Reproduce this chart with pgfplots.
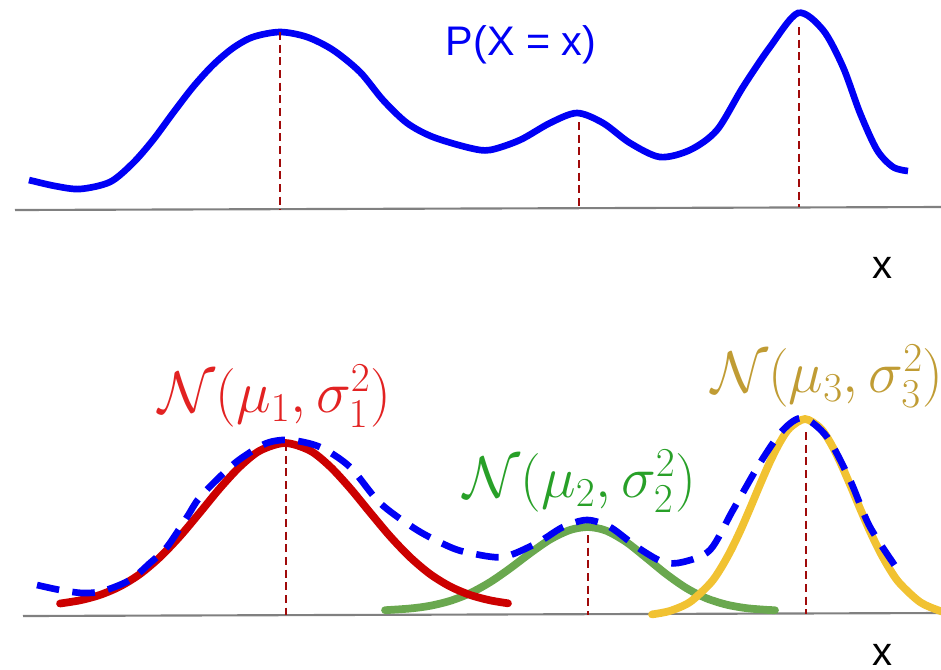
\RequirePackage{fix-cm}
\documentclass[border=0pt]{standalone}
\usepackage[no-math]{fontspec}
\usepackage{pgfplots}
\pgfplotsset{compat=1.18}
\newfontfamily\arial{Liberation Sans}
\definecolor{cblue}{RGB}{0,0,245}
\definecolor{cred}{RGB}{204,0,0}
\definecolor{tred}{RGB}{226,34,34}
\definecolor{cgreen}{RGB}{106,168,79}
\definecolor{tgreen}{RGB}{40,160,40}
\definecolor{cyellow}{RGB}{241,194,50}
\definecolor{tyellow}{RGB}{192,156,52}
\definecolor{vred}{RGB}{160,10,10}
\definecolor{cgray}{RGB}{128,128,128}
\begin{document}
\begin{tikzpicture}
\begin{axis}[width=705.75pt, height=501.75pt, scale only axis,
  xmin=0, xmax=941, ymin=0, ymax=669, y dir=reverse,
  hide axis, clip=false]
% axis lines
\addplot[cgray, line width=1.6pt] coordinates {(15,210) (941,207)};
\addplot[cgray, line width=1.6pt] coordinates {(23,616) (941,613)};
% top curve
\addplot[cblue, line width=5pt, smooth] coordinates {
(29,180) (55,186) (80,189) (110,182) (133,163) (153,140) (173,113) (193,87)
(213,65) (233,48) (253,37) (280,32) (307,37) (333,50) (360,72) (383,100)
(407,123) (433,137) (470,148) (490,150) (520,140) (550,123) (577,113)
(603,123) (630,143) (660,157) (690,150) (717,130) (743,87) (770,47)
(798,13) (823,30) (843,67) (860,113) (877,150) (893,167) (908,171)};
% top verticals
\addplot[vred, line width=1.8pt, dash pattern=on 6pt off 3.5pt] coordinates {(280,32) (280,210)};
\addplot[vred, line width=1.8pt, dash pattern=on 6pt off 3.5pt] coordinates {(579,122) (579,209)};
\addplot[vred, line width=1.8pt, dash pattern=on 6pt off 3.5pt] coordinates {(799,27) (799,207)};
% bottom verticals
\addplot[vred, line width=1.8pt, dash pattern=on 6pt off 3.5pt] coordinates {(286,443) (286,615)};
\addplot[vred, line width=1.8pt, dash pattern=on 6pt off 3.5pt] coordinates {(588,535) (588,615)};
\addplot[vred, line width=1.8pt, dash pattern=on 6pt off 3.5pt] coordinates {(806,432) (806,614)};
% green component
\addplot[cgreen, line width=5.8pt, smooth, line cap=round] coordinates {
(385,610.2) (410,608.5) (430,605.8) (450,600.9) (470,593.2) (490,582.2)
(510,568.4) (530,553.3) (550,539.5) (570,530) (588,527) (606,530.6)
(626,541.8) (646,557.6) (666,573.9) (686,587.9) (706,598.1) (726,604.5)
(746,608.1) (766,609.8) (775,610.2)};
% red component
\addplot[cred, line width=5.8pt, smooth, line cap=round] coordinates {
(60,603.5) (80,600.3) (100,594.9) (120,586.4) (140,574.0) (160,557.1)
(180,536.2) (200,512.4) (220,488.1) (240,466.5) (260,450.6) (285,443)
(310,450.6) (330,466.5) (350,488.1) (370,512.4) (390,536.2) (410,557.1)
(430,574.0) (450,586.4) (470,594.9) (490,600.3) (508,603.3)};
% yellow component
\addplot[cyellow, line width=5.8pt, smooth, line cap=round] coordinates {
(652,614.4) (670,610.9) (690,602) (710,583.6) (720,569.6) (730,552)
(740,531.4) (750,508.4) (760,484.6) (770,461.8) (780,442.1) (790,427.7)
(805,419) (820,427.7) (830,442.1) (840,461.8) (850,484.6) (860,508.4)
(870,531.4) (880,552) (890,569.6) (900,583.6) (920,602) (940,610.9) (950,612.5)};
% mixture, dashed
\addplot[cblue, line width=5pt, smooth, dash pattern=on 17pt off 10pt] coordinates {
(37,585) (60,590) (83,593) (103,591) (130,580) (150,563) (167,547) (187,517)
(200,497) (227,470) (243,457) (267,443) (290,440) (320,447) (350,467)
(380,503) (417,530) (450,547) (470,553) (503,557) (537,543) (563,527)
(587,520) (610,527) (637,547) (663,562) (683,562) (710,550) (733,510)
(760,463) (783,430) (803,418) (827,437) (850,480) (870,527) (900,573)};
% labels
\node[text=cblue, font=\arial\fontsize{31}{31}\selectfont] at (axis cs:521,45) {P(X = x)};
\node[text=black, inner sep=0pt, font=\arial\fontsize{30}{30}\selectfont] at (axis cs:882,268) {x};
\node[text=black, inner sep=0pt, font=\arial\fontsize{30}{30}\selectfont] at (axis cs:882,655) {x};
\node[text=tred, inner sep=0pt, font=\fontsize{44}{45}\selectfont] at (axis cs:275,396) {$\mathcal{N}(\mu_1,\sigma_1^2)$};
\node[text=tgreen, inner sep=0pt, font=\fontsize{44}{45}\selectfont] at (axis cs:580,481) {$\mathcal{N}(\mu_2,\sigma_2^2)$};
\node[text=tyellow, inner sep=0pt, font=\fontsize{44}{45}\selectfont, anchor=west] at (axis cs:711,376) {$\mathcal{N}(\mu_3,\sigma_3^2)$};
\end{axis}
\pgfresetboundingbox
\useasboundingbox (0,0) rectangle (705.75pt,501.75pt);
\end{tikzpicture}
\end{document}
